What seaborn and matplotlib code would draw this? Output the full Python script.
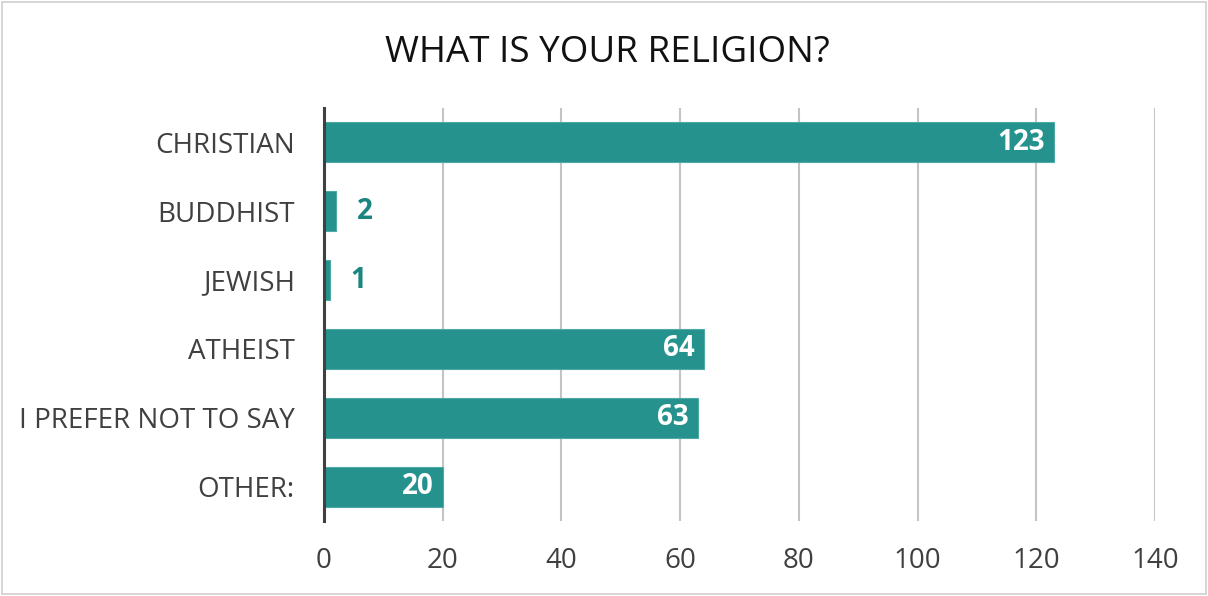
import numpy as np
import pandas as pd
import seaborn as sns
import matplotlib.pyplot as plt
from matplotlib.patches import Rectangle

categories = ["CHRISTIAN", "BUDDHIST", "JEWISH", "ATHEIST", "I PREFER NOT TO SAY", "OTHER:"]
counts = [123, 2, 1, 64, 63, 20]
x_ticks = [0, 20, 40, 60, 80, 100, 120, 140]

bar_color = "#26928D"
text_color = "#404040"

df = pd.DataFrame({"religion": categories, "count": counts})

sns.set_style("white")
plt.rcParams["font.family"] = ["Open Sans", "DejaVu Sans"]

fig = plt.figure(figsize=(12.08, 5.96), dpi=100)
ax = fig.add_axes([0.2682, 0.1258, 0.9561 - 0.2682, 0.8188 - 0.1258])

sns.barplot(data=df, x="count", y="religion", color=bar_color, saturation=1,
            width=0.58, edgecolor="#4fa9a5", linewidth=0.8, ax=ax, zorder=3)

ax.set_xlim(0, 140)
ax.set_ylim(5.5, -0.5)
ax.set_xticks(x_ticks)
ax.set_xlabel("")
ax.set_ylabel("")
ax.grid(axis="x", color="#c4c4c4", linewidth=1.5, zorder=0)
ax.grid(axis="y", visible=False)
for side in ["top", "right", "bottom"]:
    ax.spines[side].set_visible(False)
ax.spines["left"].set_color("#404040")
ax.spines["left"].set_linewidth(2.2)
ax.spines["left"].set_zorder(4)
ax.tick_params(axis="both", length=0, labelsize=20, colors=text_color)
ax.tick_params(axis="y", pad=21)
ax.tick_params(axis="x", pad=19)

for i, v in enumerate(counts):
    if v > 10:
        ax.text(v - 1.5, i, str(v), ha="right", va="center", color="white",
                fontsize=20, fontweight="bold", zorder=5)
    else:
        ax.text(v + 3.5, i, str(v), ha="left", va="center", color="#1b8580",
                fontsize=20, fontweight="bold", zorder=5)

fig.text(0.503, 0.911, "WHAT IS YOUR RELIGION?", ha="center", va="center",
         fontsize=26.5, color="#111111")

fig.patches.append(Rectangle((0.002, 0.003), 0.996, 0.994, transform=fig.transFigure,
                             fill=False, edgecolor="#d0d0d0", linewidth=1.2))

fig.savefig("out.png", dpi=100)
